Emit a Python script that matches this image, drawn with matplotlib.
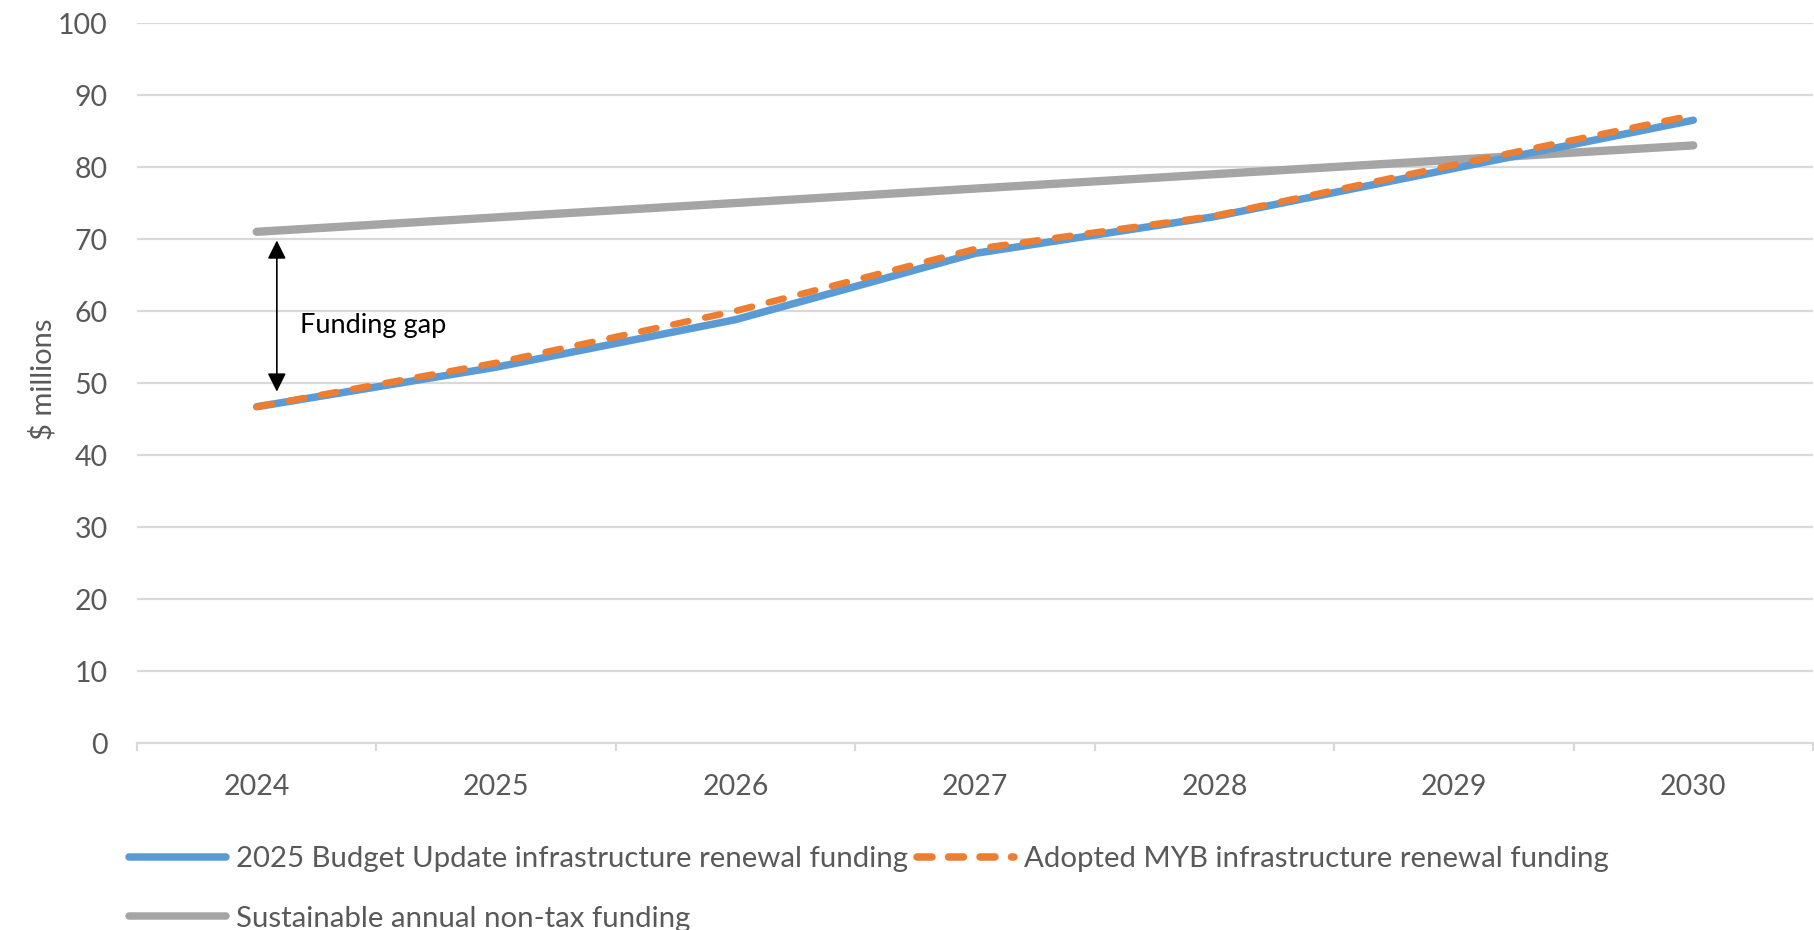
import matplotlib
matplotlib.use("Agg")
import matplotlib.pyplot as plt
from matplotlib.lines import Line2D

# Funding series, $ millions
years = ["2024", "2025", "2026", "2027", "2028", "2029", "2030"]
budget_update = [46.7, 52.2, 58.8, 68.0, 73.1, 79.8, 86.5]
adopted_myb = [46.7, 52.8, 60.0, 68.6, 73.2, 80.3, 87.2]
sustainable = [71.0, 73.0, 75.0, 77.0, 79.0, 81.0, 83.0]

y_ticks = [0, 10, 20, 30, 40, 50, 60, 70, 80, 90, 100]

label_budget = "2025 Budget Update infrastructure renewal funding"
label_myb = "Adopted MYB infrastructure renewal funding"
label_sust = "Sustainable annual non-tax funding"

# gap annotation: from the 2024 non-tax level down to the renewal level
gap_top = 69.8
gap_bottom = 48.8

BLUE = "#5B9BD5"
ORANGE = "#ED7D31"
GREY = "#A5A5A5"
TEXT = "#595959"
GRID = "#D9D9D9"

plt.rcParams["font.family"] = ["Lato", "DejaVu Sans"]

fig = plt.figure(figsize=(18.14, 9.30), dpi=100)
ax = fig.add_axes([137 / 1814, 1 - 743 / 930, 1676 / 1814, 720 / 930])

x = list(range(len(years)))

ax.plot(x, sustainable, color=GREY, lw=6.0, solid_capstyle="round", zorder=3,
        label=label_sust)
ax.plot(x, budget_update, color=BLUE, lw=5.4, solid_capstyle="round", zorder=4,
        label=label_budget)
ax.plot(x, adopted_myb, color=ORANGE, lw=4.8, dashes=(2.3, 2.6),
        dash_capstyle="round", zorder=5, label=label_myb)

ax.set_xlim(-0.5, len(years) - 0.5)
ax.set_ylim(0, 100)

ax.set_yticks(y_ticks)
ax.set_yticklabels([str(v) for v in y_ticks])
ax.set_xticks(x)
ax.set_xticklabels(years)
ax.set_xticks([i - 0.5 for i in range(len(years) + 1)], minor=True)

ax.tick_params(axis="y", length=0, pad=21, labelsize=20.5, labelcolor=TEXT)
ax.tick_params(axis="x", which="major", length=0, pad=22, labelsize=20.5,
               labelcolor=TEXT)
ax.tick_params(axis="x", which="minor", length=6, width=1.6, color=GRID)

ax.grid(axis="y", color=GRID, lw=1.6, zorder=0)
ax.set_axisbelow(True)
for side in ("top", "right", "left"):
    ax.spines[side].set_visible(False)
ax.spines["bottom"].set_color(GRID)
ax.spines["bottom"].set_linewidth(1.6)

ax.set_ylabel("$ millions", fontsize=21, color=TEXT)
ax.yaxis.set_label_coords(-0.048, 0.505)

# funding gap arrow and label
ax.annotate("", xy=(0.084, gap_top), xytext=(0.084, gap_bottom),
            arrowprops=dict(arrowstyle="<|-|>", color="black", lw=1.2,
                            mutation_scale=28, shrinkA=0, shrinkB=0),
            zorder=6)
ax.text(0.18, 58.0, "Funding gap", fontsize=19.5, color="black",
        va="center", ha="left")

handles = [
    Line2D([], [], color=BLUE, lw=5.4, solid_capstyle="round"),
    Line2D([], [], color=GREY, lw=5.4, solid_capstyle="round"),
    Line2D([], [], color=ORANGE, lw=5.4, dashes=(2.0, 2.2), dash_capstyle="round"),
]
leg = fig.legend(handles, [label_budget, label_sust, label_myb], ncol=2,
                 loc="lower left", bbox_to_anchor=(108 / 1814, -0.024),
                 frameon=False, fontsize=21.2, handlelength=3.3,
                 handletextpad=0.35, columnspacing=0.3, labelspacing=1.15,
                 borderpad=0.2)
for t in leg.get_texts():
    t.set_color(TEXT)

fig.savefig("out.png", dpi=100)
